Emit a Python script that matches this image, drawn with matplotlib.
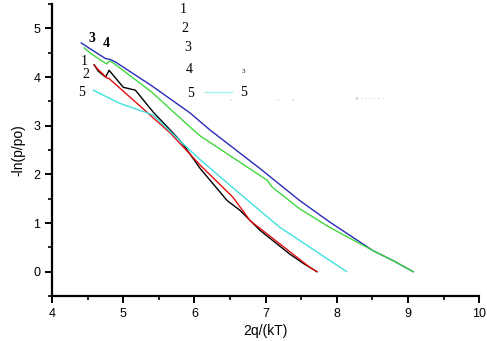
import numpy as np
import matplotlib
matplotlib.use("Agg")
import matplotlib.pyplot as plt
from matplotlib.ticker import MultipleLocator

# curve 1 (black)
x1 = [4.59, 4.65, 4.75, 4.78, 4.80, 5.00, 5.17, 5.42, 5.70, 5.83, 6.08, 6.46, 6.64, 6.92, 7.34, 7.55, 7.72]
y1 = [4.25, 4.12, 4.00, 4.08, 4.14, 3.79, 3.73, 3.28, 2.85, 2.64, 2.12, 1.46, 1.26, 0.85, 0.36, 0.15, 0.00]
# curve 2 (red)
x2 = [4.59, 4.65, 4.70, 4.77, 4.80, 5.20, 5.66, 6.08, 6.54, 6.78, 7.20, 7.62, 7.72]
y2 = [4.25, 4.15, 4.08, 3.98, 3.97, 3.45, 2.85, 2.19, 1.53, 1.05, 0.57, 0.09, 0.00]
# curve 3 (blue)
x3 = [4.41, 4.60, 4.75, 4.82, 4.90, 5.40, 5.94, 6.22, 6.92, 7.48, 7.90, 8.51, 8.80, 9.07]
y3 = [4.70, 4.52, 4.38, 4.36, 4.30, 3.82, 3.26, 2.91, 2.12, 1.46, 1.02, 0.43, 0.22, 0.00]
# curve 4 (green)
x4 = [4.45, 4.54, 4.70, 4.77, 4.80, 4.85, 5.40, 5.94, 6.08, 7.02, 7.09, 7.48, 7.90, 8.51, 8.80, 9.07]
y4 = [4.60, 4.49, 4.33, 4.27, 4.33, 4.30, 3.69, 2.97, 2.79, 1.88, 1.74, 1.29, 0.91, 0.43, 0.22, 0.00]
# curve 5 (cyan)
x5 = [4.58, 4.95, 5.42, 5.66, 5.76, 6.08, 6.64, 7.20, 7.48, 7.90, 8.14]
y5 = [3.73, 3.46, 3.22, 2.88, 2.74, 2.30, 1.60, 0.91, 0.64, 0.23, 0.00]

curves = [(x1, y1, "black"), (x2, y2, "#e01010"), (x3, y3, "#2a2ab8"),
          (x4, y4, "#40d840"), (x5, y5, "#40e0e0")]

fig = plt.figure(figsize=(4.87, 3.41), dpi=100)
ax = fig.add_axes([0.107, 0.132, 0.877, 0.856])

for xs, ys, c in curves:
    ax.plot(xs, ys, color=c, lw=1.0)

ax.set_xlim(4, 10)
ax.set_ylim(-0.5, 5.5)
ax.xaxis.set_major_locator(MultipleLocator(1))
ax.xaxis.set_minor_locator(MultipleLocator(0.5))
ax.yaxis.set_major_locator(MultipleLocator(1))
ax.yaxis.set_minor_locator(MultipleLocator(0.5))
ax.set_yticks([0, 1, 2, 3, 4, 5])
ax.spines["top"].set_visible(False)
ax.spines["right"].set_visible(False)
ax.spines["left"].set_linewidth(1.6)
ax.spines["bottom"].set_linewidth(1.6)
ax.spines["left"].set_bounds(-0.5, 5.5)
ax.tick_params(which="major", direction="out", length=5, width=1.4, labelsize=9)
ax.tick_params(which="minor", direction="out", length=3, width=1.2)
for lab in ax.get_xticklabels() + ax.get_yticklabels():
    lab.set_family("Liberation Sans")

ax.set_xlabel("2q/(kT)", fontsize=10, family="Liberation Sans", labelpad=3)
ax.set_ylabel("-ln(p/po)", fontsize=10, family="Liberation Sans", labelpad=6)

serif = dict(family="Liberation Serif", fontsize=10, ha="center", va="center")
# labels next to curve starts
ax.text(4.56, 4.80, "3", fontweight="bold", **serif)
ax.text(4.76, 4.70, "4", fontweight="bold", **serif)
ax.text(4.45, 4.33, "1", **serif)
ax.text(4.48, 4.05, "2", **serif)
ax.text(4.41, 3.69, "5", **serif)

# legend-like column
leg_x = [5.84, 5.86, 5.90, 5.93, 5.94]
leg_y = [5.38, 4.99, 4.60, 4.15, 3.66]
for i, (lx, ly) in enumerate(zip(leg_x, leg_y)):
    ax.text(lx, ly, str(i + 1), **serif)
ax.plot([6.15, 6.53], [3.70, 3.70], color="#a0f0f0", lw=1.0)
ax.text(6.69, 3.68, "5", **serif)
ax.text(6.69, 4.12, "3", family="Liberation Serif", fontsize=5, ha="center", va="center")

# faint residue text
for tx in [6.50, 7.16, 7.38]:
    ax.text(tx, 3.56, ",", fontsize=5, color="#b0b0b0", ha="center", va="center")
ax.text(8.25, 3.56, "x - - - - - -", fontsize=4.5, color="#b0b0b0", ha="left", va="center")

fig.savefig("out.png", dpi=100)
